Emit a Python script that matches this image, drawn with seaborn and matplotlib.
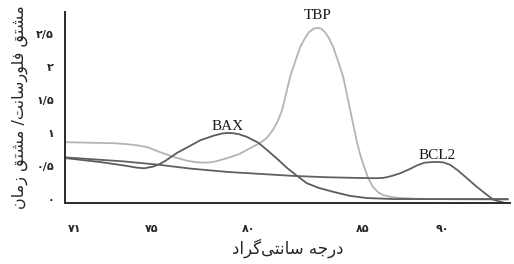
import matplotlib
matplotlib.use("Agg")
import matplotlib.pyplot as plt
import pandas as pd
import seaborn as sns

# Melt curve values (temperature, -dF/dT)
tbp_temp = [70.5, 72.0, 73.0, 73.7, 74.3, 74.8, 75.4, 76.2, 76.8, 77.2, 77.6, 78.0, 78.3,
            78.9, 79.5, 80.07, 80.6, 80.95, 81.26, 81.5, 81.73, 82.14, 82.4, 82.66, 82.9,
            83.1, 83.35, 83.55, 83.75, 83.95, 84.15, 84.36, 84.6, 84.88, 85.24, 85.6,
            85.8, 86.02, 86.2, 86.43, 86.7, 86.95, 87.3, 87.67, 89.0, 93.4]
tbp_val = [0.86, 0.85, 0.845, 0.83, 0.81, 0.78, 0.71, 0.63, 0.58, 0.56, 0.55, 0.555, 0.57,
           0.62, 0.68, 0.77, 0.85, 0.93, 1.05, 1.18, 1.35, 1.85, 2.08, 2.30, 2.43,
           2.52, 2.575, 2.59, 2.575, 2.52, 2.43, 2.30, 2.10, 1.85, 1.35, 0.85,
           0.63, 0.44, 0.30, 0.18, 0.10, 0.06, 0.035, 0.02, 0.0, -0.01]

bax_temp = [70.5, 72.3, 73.5, 74.2, 74.6, 75.05, 75.4, 75.7, 76.3, 77.0, 77.5, 78.2,
            78.6, 78.9, 79.2, 79.5, 79.9, 80.5, 80.95, 81.5, 81.98, 82.5, 83.0, 83.6,
            84.36, 85.2, 86.1, 87.5, 93.4]
bax_val = [0.62, 0.56, 0.51, 0.475, 0.465, 0.49, 0.53, 0.58, 0.70, 0.81, 0.89, 0.96,
           0.99, 1.00, 0.995, 0.98, 0.94, 0.85, 0.74, 0.60, 0.47, 0.35, 0.24, 0.17,
           0.11, 0.05, 0.015, 0.0, 0.0]

bcl2_temp = [70.5, 72.0, 73.5, 75.3, 77.0, 78.9, 80.6, 82.3, 84.0, 85.5, 86.6, 86.95,
             87.2, 87.4, 87.83, 88.3, 88.71, 89.1, 89.3, 89.54, 89.8, 90.05, 90.4,
             90.78, 91.3, 91.81, 92.2, 92.64, 93.37]
bcl2_val = [0.63, 0.60, 0.57, 0.52, 0.46, 0.41, 0.38, 0.35, 0.33, 0.32, 0.315, 0.32,
            0.335, 0.35, 0.39, 0.45, 0.51, 0.55, 0.555, 0.56, 0.56, 0.555, 0.52,
            0.44, 0.31, 0.18, 0.09, -0.01, -0.07]

genes = ["TBP", "BAX", "BCL2"]
colors = {"TBP": "#b4b4b4", "BAX": "#5c5c5c", "BCL2": "#606060"}
label_pos = {"TBP": (83.55, 2.78), "BAX": (78.9, 1.09), "BCL2": (89.75, 0.66)}

x_ticks = [71, 75, 80, 85.9, 90]
x_tick_labels = ["۷۱", "۷۵", "۸۰", "۸۵", "۹۰"]
y_ticks = [0, 0.5, 1, 1.5, 2, 2.5]
y_tick_labels = ["۰", "۰/۵", "۱", "۱/۵", "۲", "۲/۵"]

x_title = "درجه سانتی\u200cگراد"
y_title = "مشتق فلورسانت/ مشتق زمان"

# minimal Persian shaping: (isolated, final, initial, medial)
FORMS = {
    "ا": ("\ufe8d", "\ufe8e", None, None),
    "ت": ("\ufe95", "\ufe96", "\ufe97", "\ufe98"),
    "ج": ("\ufe9d", "\ufe9e", "\ufe9f", "\ufea0"),
    "د": ("\ufea9", "\ufeaa", None, None),
    "ر": ("\ufead", "\ufeae", None, None),
    "ز": ("\ufeaf", "\ufeb0", None, None),
    "س": ("\ufeb1", "\ufeb2", "\ufeb3", "\ufeb4"),
    "ش": ("\ufeb5", "\ufeb6", "\ufeb7", "\ufeb8"),
    "ف": ("\ufed1", "\ufed2", "\ufed3", "\ufed4"),
    "ق": ("\ufed5", "\ufed6", "\ufed7", "\ufed8"),
    "ل": ("\ufedd", "\ufede", "\ufedf", "\ufee0"),
    "م": ("\ufee1", "\ufee2", "\ufee3", "\ufee4"),
    "ن": ("\ufee5", "\ufee6", "\ufee7", "\ufee8"),
    "ه": ("\ufee9", "\ufeea", "\ufeeb", "\ufeec"),
    "و": ("\ufeed", "\ufeee", None, None),
    "ی": ("\ufbfc", "\ufbfd", "\ufbfe", "\ufbff"),
    "گ": ("\ufb92", "\ufb93", "\ufb94", "\ufb95"),
}


def shape_rtl(text):
    out = []
    for i, ch in enumerate(text):
        if ch not in FORMS:
            if ch != "\u200c":
                out.append(ch)
            continue
        prev = text[i - 1] if i > 0 else ""
        nxt = text[i + 1] if i + 1 < len(text) else ""
        join_prev = prev in FORMS and FORMS[prev][2] is not None
        join_next = FORMS[ch][2] is not None and nxt in FORMS
        iso, fin, ini, med = FORMS[ch]
        if join_prev and join_next:
            out.append(med)
        elif join_prev:
            out.append(fin)
        elif join_next:
            out.append(ini)
        else:
            out.append(iso)
    return "".join(out)[::-1]


frames = []
for gene, t, v in [("TBP", tbp_temp, tbp_val), ("BAX", bax_temp, bax_val),
                   ("BCL2", bcl2_temp, bcl2_val)]:
    frames.append(pd.DataFrame({"temp": t, "value": v, "gene": gene}))
df = pd.concat(frames, ignore_index=True)

sns.set_style("white")
plt.rcParams["font.family"] = ["DejaVu Sans"]

fig = plt.figure(figsize=(5.14, 2.64), dpi=100)
ax = fig.add_axes([0.1265, 0.231, 0.8655, 0.724])

sns.lineplot(data=df, x="temp", y="value", hue="gene", hue_order=genes,
             palette=colors, estimator=None, sort=False, linewidth=1.3,
             legend=False, ax=ax)

for gene in genes:
    x, y = label_pos[gene]
    ax.text(x, y, gene, ha="center", va="center", fontsize=11,
            family="Liberation Serif", color="#1a1a1a")

ax.set_xlim(70.5, 93.5)
ax.set_ylim(-0.06, 2.83)
ax.set_xticks(x_ticks)
ax.set_xticklabels(x_tick_labels, fontsize=8, fontweight="bold")
ax.set_yticks(y_ticks)
ax.set_yticklabels(y_tick_labels, fontsize=8, fontweight="bold")
ax.tick_params(axis="x", length=0, pad=15)
ax.tick_params(axis="y", length=0, pad=8)

ax.set_xlabel(shape_rtl(x_title), fontsize=12, labelpad=3)
ax.set_ylabel(shape_rtl(y_title), fontsize=11.5, labelpad=6)

sns.despine(ax=ax)
for side in ["left", "bottom"]:
    ax.spines[side].set_color("#2a2a2a")
    ax.spines[side].set_linewidth(1.4)

fig.savefig("out.png", dpi=100)
